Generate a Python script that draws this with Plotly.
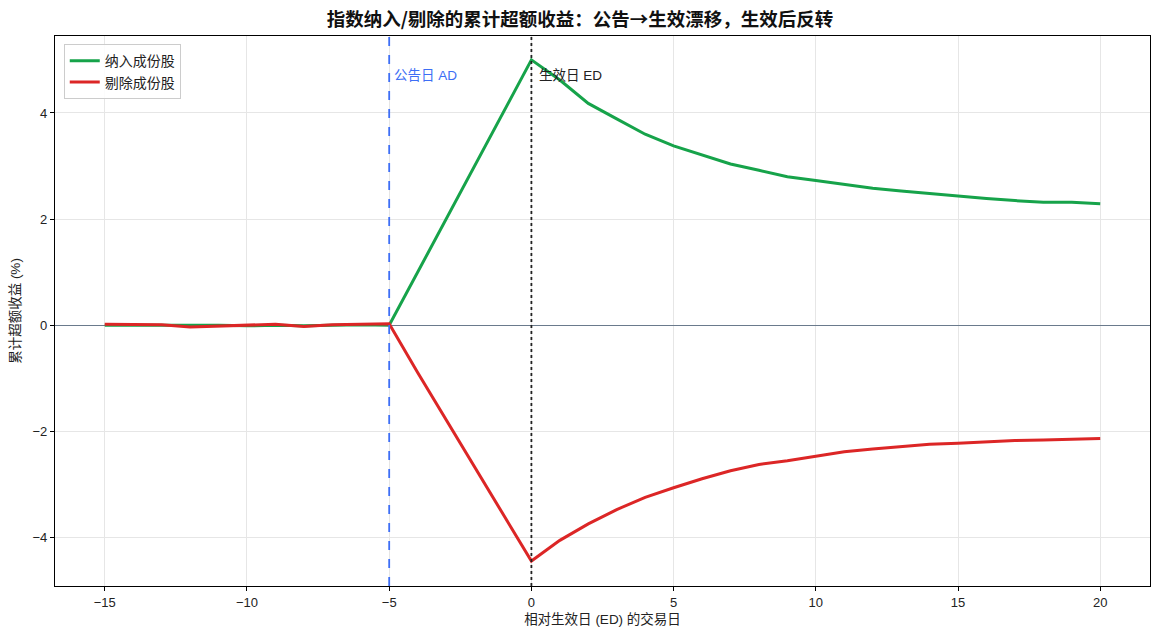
import plotly.graph_objects as go

days = list(range(-15, 21))
incl = [0.00, 0.00, 0.01, 0.01, 0.00, -0.01, 0.00, -0.01, 0.00, 0.01, 0.00,
        1.00, 2.00, 3.00, 4.00, 5.00,
        4.62, 4.18, 3.89, 3.60, 3.38, 3.21, 3.04, 2.92, 2.80, 2.73,
        2.65, 2.58, 2.53, 2.48, 2.43, 2.39, 2.35, 2.32, 2.32, 2.29]
excl = [0.02, 0.02, 0.01, -0.03, -0.01, 0.00, 0.02, -0.02, 0.01, 0.02, 0.03,
        -0.89, -1.78, -2.66, -3.55, -4.44,
        -4.05, -3.74, -3.47, -3.24, -3.06, -2.89, -2.74, -2.62, -2.55, -2.47,
        -2.38, -2.33, -2.29, -2.24, -2.22, -2.19, -2.17, -2.16, -2.14, -2.13]

FONT = "Liberation Sans, Noto Sans CJK SC, sans-serif"
CJK = "Noto Sans CJK SC, sans-serif"

fig = go.Figure()
fig.add_trace(go.Scatter(x=days, y=incl, mode="lines", name="纳入成份股",
                         line=dict(color="#16a34a", width=3)))
fig.add_trace(go.Scatter(x=days, y=excl, mode="lines", name="剔除成份股",
                         line=dict(color="#dc2626", width=3)))

fig.add_vline(x=-5, line=dict(color="#3d6ef5", width=1.8, dash="dash"))
fig.add_vline(x=0, line=dict(color="#222222", width=1.8, dash="dot"))

fig.add_annotation(x=-5, y=4.7, xanchor="left", xshift=3, text="公告日 AD", showarrow=False,
                   font=dict(color="#3d6ef5", size=13.5, family=FONT))
fig.add_annotation(x=0, y=4.7, xanchor="left", xshift=6, text="生效日 ED", showarrow=False,
                   font=dict(color="#222222", size=13.5, family=FONT))

fig.update_layout(
    width=1160, height=640,
    margin=dict(l=55, r=10, t=36, b=54),
    paper_bgcolor="white", plot_bgcolor="white",
    font=dict(family=FONT, size=13, color="#222222"),
    title=dict(text="<b>指数纳入/剔除的累计超额收益：公告→生效漂移，生效后反转</b>",
               x=0.5, xanchor="center", y=0.969, yanchor="middle",
               font=dict(size=18.5, family=CJK, color="#111111")),
    legend=dict(x=0.008, y=0.985, xanchor="left", yanchor="top",
                bgcolor="rgba(255,255,255,0.85)", bordercolor="#cccccc", borderwidth=1,
                font=dict(size=14, family=FONT)),
    showlegend=True,
)
fig.update_xaxes(range=[-16.75, 21.75], tickmode="array", tickvals=[-15, -10, -5, 0, 5, 10, 15, 20],
                 showgrid=True, gridcolor="#e6e6e6", gridwidth=1, zeroline=False,
                 showline=True, linecolor="black", linewidth=1.2, mirror=True,
                 ticks="outside", ticklen=4, tickcolor="black",
                 title=dict(text="相对生效日 (ED) 的交易日", font=dict(size=13.5), standoff=5),
                 tickfont=dict(size=13))
fig.update_yaxes(range=[-4.91, 5.45], tickmode="array", tickvals=[-4, -2, 0, 2, 4],
                 showgrid=True, gridcolor="#e6e6e6", gridwidth=1,
                 zeroline=True, zerolinecolor="#6a7a8c", zerolinewidth=1,
                 showline=True, linecolor="black", linewidth=1.2, mirror=True,
                 ticks="outside", ticklen=4, tickcolor="black",
                 title=dict(text="累计超额收益 (%)", font=dict(size=13.5), standoff=8),
                 tickfont=dict(size=13))

fig.write_html("out.html")
